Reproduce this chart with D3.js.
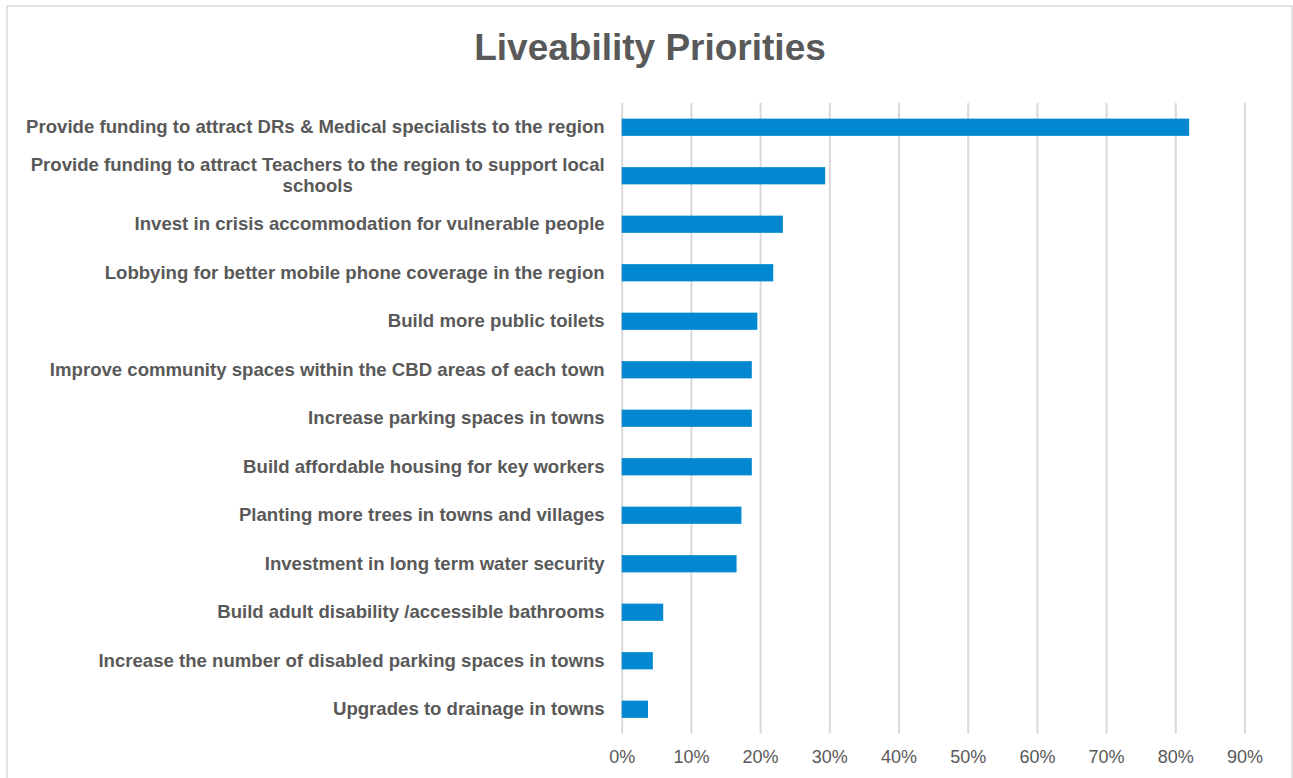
<!DOCTYPE html>
<html>
<head>
<meta charset="utf-8">
<title>Liveability Priorities</title>
<script src="https://cdn.jsdelivr.net/npm/d3@7"></script>
<style>
  html, body { margin: 0; padding: 0; background: #ffffff; }
  svg { display: block; }
</style>
</head>
<body>
<svg id="chart" width="1293" height="778"></svg>
<script>
// Survey priorities and share of respondents choosing each
const categories = [
  "Provide funding to attract DRs & Medical specialists to the region",
  "Provide funding to attract Teachers to the region to support local schools",
  "Invest in crisis accommodation for vulnerable people",
  "Lobbying for better mobile phone coverage in the region",
  "Build more public toilets",
  "Improve community spaces within the CBD areas of each town",
  "Increase parking spaces in towns",
  "Build affordable housing for key workers",
  "Planting more trees in towns and villages",
  "Investment in long term water security",
  "Build adult disability /accessible bathrooms",
  "Increase the number of disabled parking spaces in towns",
  "Upgrades to drainage in towns"
];
const shares = [0.820, 0.294, 0.233, 0.219, 0.196, 0.188, 0.188, 0.188, 0.173, 0.166, 0.060, 0.045, 0.038];
const tickValues = [0, 0.1, 0.2, 0.3, 0.4, 0.5, 0.6, 0.7, 0.8, 0.9];
const chartTitle = "Liveability Priorities";

const FONT = "'Liberation Sans', Arial, Helvetica, sans-serif";
const TEXT = "#595959";
const GRID = "#d9d9d9";
const BAR = "#0288d1";

const svg = d3.select("#chart");

// outer frame
svg.append("rect")
  .attr("x", 7).attr("y", 6)
  .attr("width", 1285).attr("height", 800)
  .attr("fill", "#ffffff")
  .attr("stroke", GRID).attr("stroke-width", 1.5);

const plot = { left: 621.7, right: 1244.5, top: 103, bottom: 733.5 };

const x = d3.scaleLinear().domain([0, 0.9]).range([plot.left, plot.right]);
const y = d3.scaleBand()
  .domain(categories)
  .range([plot.top, plot.bottom])
  .paddingInner(0.645)
  .paddingOuter(0.3225);

// title
svg.append("text")
  .attr("x", 650).attr("y", 60)
  .attr("text-anchor", "middle")
  .attr("font-family", FONT)
  .attr("font-size", 37)
  .attr("font-weight", "bold")
  .attr("fill", TEXT)
  .text(chartTitle);

// vertical gridlines + percent labels
const xAxis = svg.append("g")
  .attr("transform", `translate(0,${plot.bottom})`)
  .call(d3.axisBottom(x)
    .tickValues(tickValues)
    .tickSize(-(plot.bottom - plot.top))
    .tickPadding(16.5)
    .tickFormat(d3.format(".0%")));
xAxis.select(".domain").remove();
xAxis.selectAll(".tick line").attr("stroke", GRID).attr("stroke-width", 2);
xAxis.selectAll(".tick text")
  .attr("font-family", FONT)
  .attr("font-size", 18)
  .attr("fill", TEXT);

// bars
svg.append("g").selectAll("rect")
  .data(categories)
  .join("rect")
  .attr("x", x(0))
  .attr("y", d => y(d))
  .attr("width", (d, i) => x(shares[i]) - x(0))
  .attr("height", y.bandwidth())
  .attr("fill", BAR);

// category labels
const yAxis = svg.append("g")
  .attr("transform", `translate(${plot.left},0)`)
  .call(d3.axisLeft(y).tickSize(0).tickPadding(17));
yAxis.select(".domain").remove();
yAxis.selectAll(".tick text")
  .attr("font-family", FONT)
  .attr("font-size", 18.6)
  .attr("font-weight", "bold")
  .attr("fill", TEXT);

// wrap long labels, centring wrapped lines inside a right-aligned block
const maxWidth = 590;
const lineGap = 21.5;
yAxis.selectAll(".tick text").each(function () {
  const text = d3.select(this);
  const words = text.text().split(/\s+/);
  if (this.getComputedTextLength() <= maxWidth) return;
  const xPos = +text.attr("x");
  text.text(null);
  const lines = [];
  let line = [];
  const probe = text.append("tspan");
  for (const w of words) {
    line.push(w);
    probe.text(line.join(" "));
    if (probe.node().getComputedTextLength() > maxWidth && line.length > 1) {
      line.pop();
      lines.push(line.join(" "));
      line = [w];
    }
  }
  lines.push(line.join(" "));
  probe.remove();
  const widths = lines.map(l => {
    const t = text.append("tspan").text(l);
    const wdt = t.node().getComputedTextLength();
    t.remove();
    return wdt;
  });
  const blockW = d3.max(widths);
  const cx = xPos - blockW / 2;
  text.attr("text-anchor", "middle").attr("dy", null);
  lines.forEach((l, i) => {
    text.append("tspan")
      .attr("x", cx)
      .attr("y", (i - (lines.length - 1) / 2) * lineGap)
      .attr("dy", "0.32em")
      .text(l);
  });
});
</script>
</body>
</html>
